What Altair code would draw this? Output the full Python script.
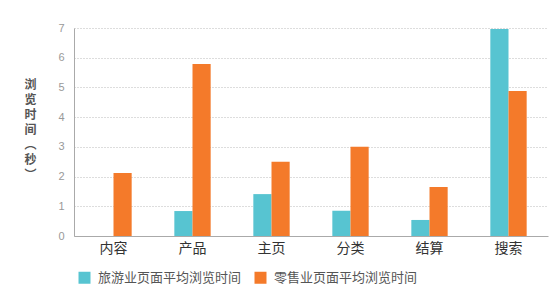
import altair as alt
import pandas as pd

categories = ["内容", "产品", "主页", "分类", "结算", "搜索"]
travel = [0, 0.84, 1.41, 0.85, 0.54, 6.97]
retail = [2.12, 5.79, 2.5, 3.0, 1.65, 4.88]
series = ["旅游业页面平均浏览时间", "零售业页面平均浏览时间"]
colors = ["#57C4D1", "#F47A2A"]

rows = []
for c, t, r in zip(categories, travel, retail):
    rows.append({"cat": c, "series": series[0], "v": t})
    rows.append({"cat": c, "series": series[1], "v": r})
df = pd.DataFrame(rows)

font = "Noto Sans CJK SC"

chart = alt.Chart(df).mark_bar().encode(
    x=alt.X("cat:N", sort=categories, title=None,
            scale=alt.Scale(paddingInner=0.54, paddingOuter=0.27),
            axis=alt.Axis(labelAngle=0, labelFontSize=14, labelColor="#333333",
                          labelFont=font, ticks=False, labelPadding=5,
                          domainColor="#aaaaaa", grid=False)),
    xOffset=alt.XOffset("series:N", sort=series),
    y=alt.Y("v:Q", scale=alt.Scale(domain=[0, 7], nice=False),
            axis=alt.Axis(values=[0, 1, 2, 3, 4, 5, 6, 7], grid=True,
                          gridDash=[1, 2], gridColor="#bbbbbb", ticks=False,
                          labelColor="#999999", labelFontSize=11, labelPadding=10,
                          domainColor="#aaaaaa",
                          title=["浏", "览", "时", "间", "︵", "秒", "︶"],
                          titleAngle=0, titleX=-44, titleY=51, titleAlign="center",
                          titleBaseline="top", titleFontSize=12, titleLineHeight=15,
                          titleColor="#555555", titleFont=font, titleFontWeight="bold")),
    color=alt.Color("series:N", sort=series,
                    scale=alt.Scale(domain=series, range=colors),
                    legend=alt.Legend(title=None, orient="none", legendX=4, legendY=243,
                                      direction="horizontal", symbolType="square",
                                      symbolSize=144, symbolStrokeWidth=0,
                                      labelFontSize=13, labelColor="#555555",
                                      labelFont=font, labelOffset=7, columnPadding=12,
                                      labelLimit=300)),
).properties(
    width=474, height=208,
    autosize=alt.AutoSizeParams(type="none"),
    padding={"left": 74, "top": 28, "right": 2, "bottom": 53},
).configure_view(stroke=None)

chart.save("out.html", embed_options={"renderer": "svg", "actions": False})
